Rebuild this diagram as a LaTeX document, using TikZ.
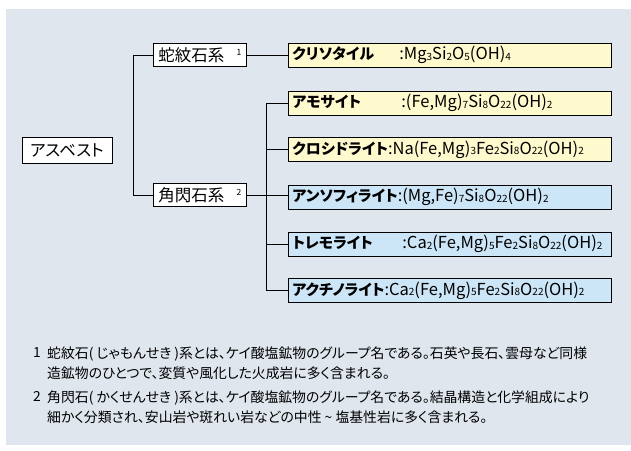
\documentclass[tikz,border=0pt]{standalone}
\usepackage{fontspec}
\setmainfont{Noto Sans CJK JP}[RawFeature=+palt]
\definecolor{panel}{RGB}{223,230,238}
\definecolor{yel}{RGB}{255,249,206}
\definecolor{blu}{RGB}{204,230,247}
\newcommand\sbs[1]{\raisebox{-0.8pt}{\fontsize{10}{10}\selectfont #1}}
\newcommand\supn[1]{\raisebox{6pt}{\fontsize{8.5}{8.5}\selectfont #1}}
\newcommand\nm[1]{{\fontsize{15}{15}\selectfont\bfseries #1}}
\tikzset{
  conn/.style={draw=black, line width=1pt},
  catbox/.style={draw=black, fill=white, line width=0.8pt, minimum width=93pt, minimum height=23pt, inner xsep=5pt, inner ysep=0pt, anchor=west, font=\fontsize{16.5}{16.5}\selectfont},
  topbox/.style={draw=black, fill=white, line width=0.8pt, minimum width=90pt, minimum height=26pt, inner sep=0pt, font=\fontsize{16.5}{16.5}\selectfont},
  minbox/.style={draw=black, line width=0.8pt, anchor=west, text width=315pt, inner xsep=4pt, inner ysep=0pt, minimum height=24pt, align=left, font=\fontsize{16.5}{16.5}\selectfont},
  yelbox/.style={minbox, fill=yel},
  blubox/.style={minbox, fill=blu},
  note/.style={anchor=north west, inner sep=0pt, align=left, font=\fontsize{13.85}{19.5}\selectfont},
}
\begin{document}
\begin{tikzpicture}[x=1pt,y=-1pt]
\useasboundingbox (0,0) rectangle (631,450);
\fill[panel] (6,9) rectangle (631,445);

% top
\node[topbox] (asb) at (67,150) {アスベスト};

% categories
\node[catbox] (jm) at (153,55) {\makebox[83pt][l]{蛇紋石系\hfill\supn{1}}};
\node[catbox] (ks) at (153,195) {\makebox[83pt][l]{角閃石系\hfill\supn{2}}};

% minerals
\node[yelbox] (cr) at (288,55) {\makebox[107pt][l]{\nm{クリソタイル}}:Mg\sbs{3}Si\sbs{2}O\sbs{5}(OH)\sbs{4}};
\node[yelbox] (am) at (288,103) {\makebox[109pt][l]{\nm{アモサイト}}:(Fe,Mg)\sbs{7}Si\sbs{8}O\sbs{22}(OH)\sbs{2}};
\node[yelbox] (cl) at (288,149.5) {\nm{クロシドライト}:Na(Fe,Mg)\sbs{3}Fe\sbs{2}Si\sbs{8}O\sbs{22}(OH)\sbs{2}};
\node[blubox] (an) at (288,197) {\nm{アンソフィライト}:(Mg,Fe)\sbs{7}Si\sbs{8}O\sbs{22}(OH)\sbs{2}};
\node[blubox] (tr) at (288,244) {\makebox[110pt][l]{\nm{トレモライト}}:Ca\sbs{2}(Fe,Mg)\sbs{5}Fe\sbs{2}Si\sbs{8}O\sbs{22}(OH)\sbs{2}};
\node[blubox] (ac) at (288,290.5) {\nm{アクチノライト}:Ca\sbs{2}(Fe,Mg)\sbs{5}Fe\sbs{2}Si\sbs{8}O\sbs{22}(OH)\sbs{2}};

% connectors
\coordinate (t1) at (133,55);
\coordinate (t2) at (133,195);
\draw[conn] (jm.west) -- (t1) -- (t2) -- (ks.west);
\draw[conn] (jm.east) -- (cr.west);
\draw[conn] (ks.east) -- (ks.east -| an.west);
\coordinate (s1) at (266,103);
\coordinate (s2) at (266,290.5);
\draw[conn] (am.west) -- (s1) -- (s2) -- (ac.west);
\draw[conn] (cl.west) -- (cl.west -| s1);
\draw[conn] (tr.west) -- (tr.west -| s1);

% notes
\node[note] (n1num) at (33,347) {1};
\node[note] (n1) at (47,347) {蛇紋石( じゃもんせき )系とは、ケイ酸塩鉱物のグループ名である。石英や長石、雲母など同様\\造鉱物のひとつで、変質や風化した火成岩に多く含まれる。};
\node[note] (n2num) at (33,391) {2};
\node[note] (n2) at (47,391) {角閃石( かくせんせき )系とは、ケイ酸塩鉱物のグループ名である。結晶構造と化学組成により\\細かく分類され、安山岩や斑れい岩などの中性 \textasciitilde\ 塩基性岩に多く含まれる。};
\end{tikzpicture}
\end{document}
